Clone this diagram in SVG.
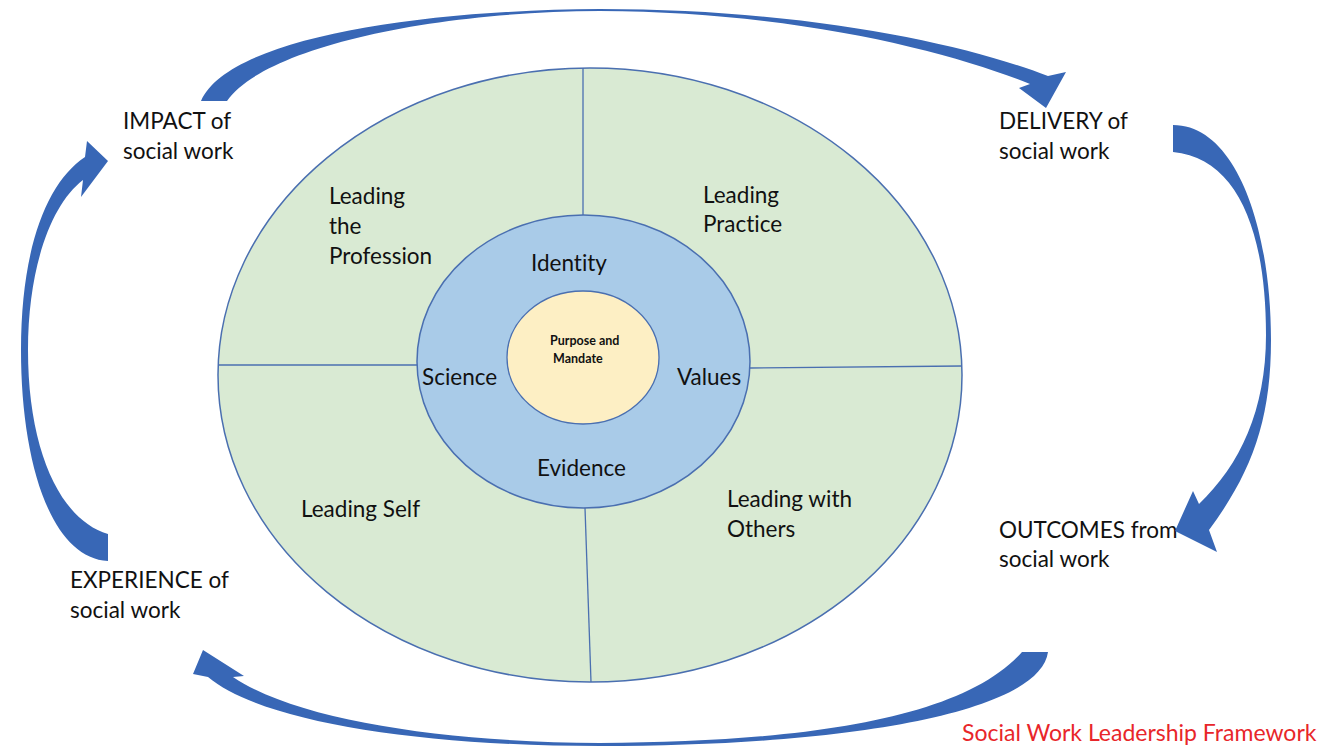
<svg xmlns="http://www.w3.org/2000/svg" width="1335" height="746" viewBox="0 0 1335 746">
<style>
.t{font-family:Lato,"Liberation Sans",sans-serif;font-size:22.5px;fill:#111;font-variant-ligatures:none}
.s{font-family:Lato,"Liberation Sans",sans-serif;font-size:12.5px;font-weight:bold;fill:#111}
.r{font-family:Lato,"Liberation Sans",sans-serif;font-size:23px;fill:#e8262a}
.arr{fill:#3867b6}
.ln{stroke:#4a6fb0;stroke-width:1.3;fill:none}
</style>
<rect width="1335" height="746" fill="#ffffff"/>
<g id="outer-ring">
<ellipse cx="590" cy="375" rx="372" ry="307" fill="#d9ead3" stroke="#4a6fb0" stroke-width="1.5"/>
<line class="ln" x1="583" y1="68" x2="583" y2="215"/>
<line class="ln" x1="585" y1="508" x2="591" y2="682"/>
<line class="ln" x1="218" y1="365" x2="418" y2="365"/>
<line class="ln" x1="750" y1="368" x2="962" y2="366"/>
</g>
<g id="middle-ring">
<ellipse cx="583.5" cy="361.5" rx="166.5" ry="146.5" fill="#a9cbe8" stroke="#4a6fb0" stroke-width="1.5"/>
</g>
<g id="core">
<ellipse cx="583" cy="357.5" rx="76" ry="66.5" fill="#fdefc4" stroke="#4a6fb0" stroke-width="1.3"/>
<text class="s" x="550" y="345">Purpose and</text>
<text class="s" x="553" y="363">Mandate</text>
</g>
<g id="leading-profession"><text class="t" x="329" y="204">Leading</text><text class="t" x="329" y="234">the</text><text class="t" x="329" y="264">Profession</text></g>
<g id="leading-practice"><text class="t" x="703" y="203">Leading</text><text class="t" x="703" y="232">Practice</text></g>
<g id="leading-self"><text class="t" x="301" y="517">Leading Self</text></g>
<g id="leading-others"><text class="t" x="727" y="507">Leading with</text><text class="t" x="727" y="537">Others</text></g>
<g id="identity"><text class="t" x="531" y="271">Identity</text></g>
<g id="science"><text class="t" x="422" y="385">Science</text></g>
<g id="values"><text class="t" x="677" y="385">Values</text></g>
<g id="evidence"><text class="t" x="537" y="476">Evidence</text></g>
<g id="impact"><text class="t" x="123" y="129">IMPACT of</text><text class="t" x="123" y="159">social work</text></g>
<g id="delivery"><text class="t" x="999" y="129">DELIVERY of</text><text class="t" x="999" y="159">social work</text></g>
<g id="outcomes"><text class="t" x="999" y="538">OUTCOMES from</text><text class="t" x="999" y="567">social work</text></g>
<g id="experience"><text class="t" x="70" y="588">EXPERIENCE of</text><text class="t" x="70" y="618">social work</text></g>
<g id="connectors">
<path class="arr" d="M201,101 C228,38 420,10 600,9 C800,9 960,42 1048,76 L1066,72 L1046,108 L1019,88 L1030,84 C950,52 800,12 600,11 C420,12 262,50 227,101 Z"/>
<path class="arr" d="M1173,125 C1237,125 1271,230 1271,340 C1271,420 1252,472 1209,530 L1217,552 L1175,531 L1193,491 L1199,504 C1240,465 1266,410 1266,335 C1266,230 1237,158 1173,152 Z"/>
<path class="arr" d="M1022,652 L1048,652 C1040,712 850,746 600,746 C420,746 262,722 208,677 L193,674 L203,650 L244,676 L233,677 C300,722 450,742 600,743 C800,742 962,720 1022,652 Z"/>
<path class="arr" d="M108,561 C50,558 21,460 21,350 C21,250 46,183 85,157 L87,141 L108,161 L81,197 L83,180 C50,205 28,270 28,350 C28,450 60,520 108,534 Z"/>
</g>
<g id="title"><text class="r" x="962" y="741">Social Work Leadership Framework</text></g>
</svg>
